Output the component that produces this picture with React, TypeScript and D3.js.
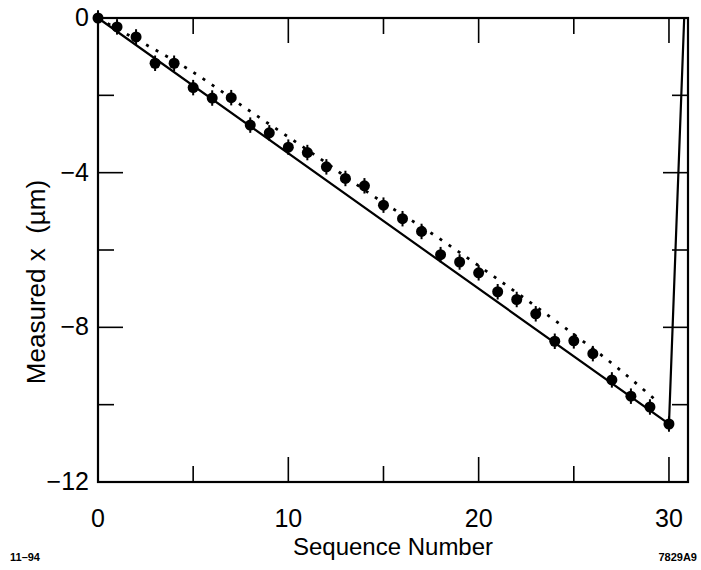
import React from "react";
import * as d3 from "d3";

const seqNumbers = [0,1,2,3,4,5,6,7,8,9,10,11,12,13,14,15,16,17,18,19,20,21,22,23,24,25,26,27,28,29,30];
const measuredX = [0,-0.23,-0.49,-1.17,-1.17,-1.8,-2.07,-2.06,-2.77,-2.97,-3.34,-3.48,-3.85,-4.15,-4.34,-4.84,-5.19,-5.52,-6.12,-6.31,-6.59,-7.08,-7.28,-7.65,-8.36,-8.35,-8.68,-9.36,-9.78,-10.06,-10.5];
const errBar = 0.2;

const solidX = [0, 30, 30.8];
const solidY = [0, -10.5, 0];

const dottedX = [0, 1.3, 2.56, 4.67, 7.9, 11.56, 14.3, 17.5, 20.7, 23.75, 27.3, 29.3];
const dottedY = [0, -0.36, -0.7, -1.3, -2.38, -3.6, -4.55, -5.56, -6.65, -7.73, -9.05, -9.88];

const xMajor = [0, 10, 20, 30];
const xMinor = [5, 15, 25];
const yMajor = [0, -4, -8, -12];
const yMinor = [-2, -6, -10];
const xTickLabels = ["0", "10", "20", "30"];
const yTickLabels = ["0", "\u22124", "\u22128", "\u221212"];

export default function App() {
  const W = 701, H = 570;
  const x = d3.scaleLinear().domain([0, 31]).range([98, 688]);
  const y = d3.scaleLinear().domain([0, -12]).range([18, 482]);
  const font = "'Liberation Sans', Arial, Helvetica, sans-serif";
  const majL = 25, minL = 16;

  const line = d3.line<[number, number]>().x(d => x(d[0])).y(d => y(d[1]));
  const solidPath = line(solidX.map((v, i) => [v, solidY[i]]) as [number, number][]) || "";
  const dottedPath = line.curve(d3.curveMonotoneX)(dottedX.map((v, i) => [v, dottedY[i]]) as [number, number][]) || "";

  const x0 = x(0), x1 = x(31), y0 = y(0), y1 = y(-12);

  return (
    <svg width={W} height={H} style={{ position: "absolute", left: 0, top: 0, background: "#fff" }}>
      <rect x={0} y={0} width={W} height={H} fill="#fff" />
      <g stroke="#000" strokeWidth={1.6}>
        {xMajor.concat(xMinor).map((t, i) => {
          const L = xMajor.includes(t) ? majL : minL;
          return (
            <g key={"xt" + i}>
              <line x1={x(t)} x2={x(t)} y1={y1} y2={y1 - L} />
              <line x1={x(t)} x2={x(t)} y1={y0} y2={y0 + L} />
            </g>
          );
        })}
        {yMajor.concat(yMinor).map((t, i) => {
          const L = yMajor.includes(t) ? majL : minL;
          return (
            <g key={"yt" + i}>
              <line x1={x0} x2={x0 + L} y1={y(t)} y2={y(t)} />
              <line x1={x1} x2={x1 - L} y1={y(t)} y2={y(t)} />
            </g>
          );
        })}
      </g>
      <rect x={x0} y={y0} width={x1 - x0} height={y1 - y0} fill="none" stroke="#000" strokeWidth={2.2} />
      <path d={solidPath} fill="none" stroke="#000" strokeWidth={2.2} />
      <path d={dottedPath} fill="none" stroke="#000" strokeWidth={2.8} strokeDasharray="3 8" />
      <g fill="#000" stroke="#000">
        {seqNumbers.map((s, i) => (
          <g key={"p" + i}>
            <line x1={x(s)} x2={x(s)} y1={y(measuredX[i] + errBar)} y2={y(measuredX[i] - errBar)} strokeWidth={2} />
            <circle cx={x(s)} cy={y(measuredX[i])} r={5.5} stroke="none" />
          </g>
        ))}
      </g>
      <g fontFamily={font} fontSize={25} fill="#000">
        {xMajor.map((t, i) => (
          <text key={"xl" + i} x={x(t)} y={527} textAnchor="middle">{xTickLabels[i]}</text>
        ))}
        {yMajor.map((t, i) => (
          <text key={"yl" + i} x={89} y={y(t) + 8} textAnchor="end">{yTickLabels[i]}</text>
        ))}
      </g>
      <text x={(x0 + x1) / 2} y={555} textAnchor="middle" fontFamily={font} fontSize={24}>Sequence Number</text>
      <text transform={`translate(45, 282) rotate(-90)`} textAnchor="middle" fontFamily={font} fontSize={26} xmlSpace="preserve" style={{ whiteSpace: "pre" }}>Measured x  (µm)</text>
      <text x={10} y={561} fontFamily={font} fontSize={11} fontWeight="bold">11–94</text>
      <text x={697} y={561} textAnchor="end" fontFamily={font} fontSize={11} fontWeight="bold">7829A9</text>
    </svg>
  );
}
